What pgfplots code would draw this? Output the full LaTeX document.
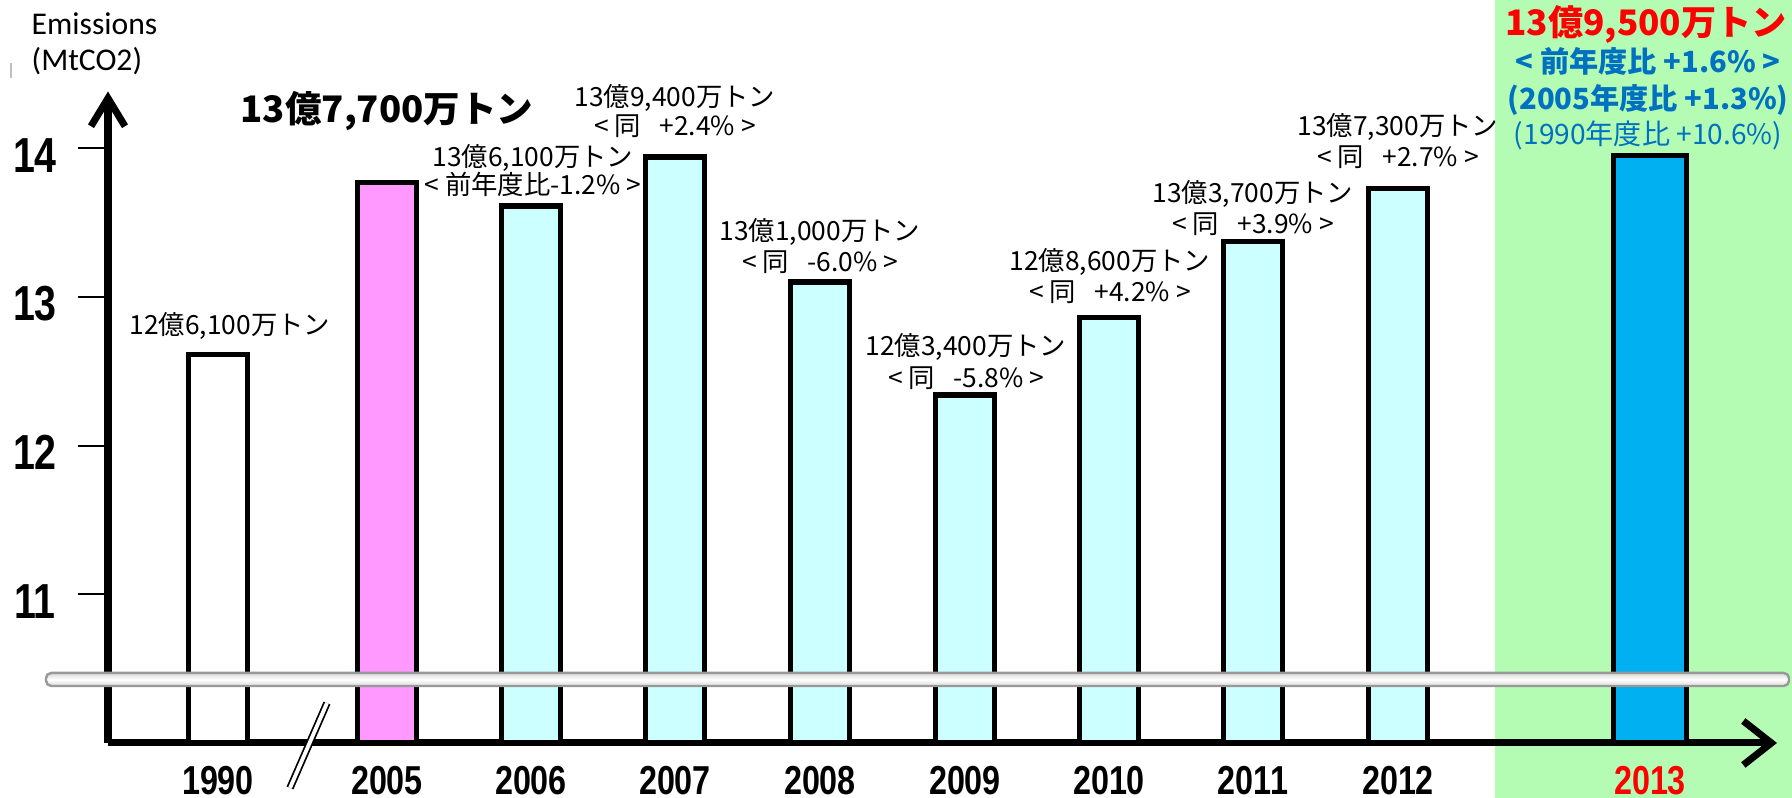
\documentclass[border=0pt]{standalone}
\usepackage{pgfplots}
\pgfplotsset{compat=1.18}
\usetikzlibrary{arrows.meta}
\usepackage{fontspec}
\setmainfont{Liberation Sans}
\newfontfamily\jp{Noto Sans CJK JP}
\newfontfamily\tickfont[FakeStretch=0.8]{Liberation Sans}
\newfontfamily\calib{Carlito}

\definecolor{bgGreen}{RGB}{180,252,180}
\definecolor{barPink}{RGB}{255,153,255}
\definecolor{barCyan}{RGB}{204,255,255}
\definecolor{barBlue}{RGB}{0,176,240}
\definecolor{txtBlue}{RGB}{0,112,192}

% small two-line labels above the bars
\newcommand{\lab}[3]{\node[font=\jp\fontsize{7.5}{9}\selectfont, inner sep=0pt] at (axis cs:#1,#2) {#3};}

\begin{document}
\begin{tikzpicture}
% 1 px of the reference = 0.01cm
\fill[bgGreen] (14.95,0) rectangle (17.92,7.98);
\useasboundingbox (0,0) rectangle (17.92,7.98);

\node[font=\calib\fontsize{9}{9}\selectfont, anchor=west, inner sep=0pt] at (0.31,7.74) {Emissions};
\node[font=\calib\fontsize{9}{9}\selectfont, anchor=west, inner sep=0pt] at (0.31,7.37) {(MtCO2)};
\draw[gray!50, line width=0.8pt] (0.11,7.35) -- (0.11,7.20);

\begin{axis}[
    at={(1.08cm,0.55cm)}, anchor=south west,
    scale only axis, width=16.69cm, height=6.515cm,
    xmin=108, xmax=1777,
    ymin=10, ymax=14.381,
    axis lines=left,
    x axis line style={line width=2pt, -{Straight Barb[length=0.28cm, width=0.44cm]}},
    y axis line style={line width=2pt, -{Straight Barb[length=0.28cm, width=0.34cm]}},
    clip mode=individual,
    /pgf/number format/assume math mode=true,
    ytick={11,12,13,14},
    ytick align=outside,
    major tick length=0.3cm,
    y tick style={line width=0.6pt, black},
    yticklabel style={font=\tickfont\bfseries\fontsize{14}{14}\selectfont, anchor=center, xshift=-0.43cm, yshift=-0.07cm},
    xtick={218,387,531,675,820,965,1109,1253,1398,1650},
    xticklabels={1990,2005,2006,2007,2008,2009,2010,2011,2012,\textcolor{red}{2013}},
    xtick align=inside,
    x tick style={draw=none},
    xticklabel style={font=\tickfont\bfseries\fontsize{11.5}{11.5}\selectfont, anchor=center, yshift=-0.375cm},
]
% bars
\addplot[ybar, bar width=59, bar shift=0pt, fill=white, draw=black, line width=1.5pt]
    coordinates {(218,12.61)};
\addplot[ybar, bar width=59, bar shift=0pt, fill=barPink, draw=black, line width=1.5pt]
    coordinates {(387,13.77)};
\addplot[ybar, bar width=59, bar shift=0pt, fill=barCyan, draw=black, line width=1.5pt]
    coordinates {(531,13.61) (675,13.94) (820,13.10) (965,12.34) (1109,12.86) (1253,13.37) (1398,13.73)};
\addplot[ybar, bar width=73, bar shift=0pt, fill=barBlue, draw=black, line width=1.5pt]
    coordinates {(1650,13.95)};

% labels
\lab{230}{12.804}{12億6,100万トン}
\node[font=\jp\bfseries\fontsize{10.4}{12}\selectfont, inner sep=0pt] at (axis cs:387,14.25) {13億7,700万トン};
\lab{533}{13.934}{13億6,100万トン}
\lab{533}{13.759}{< 前年度比-1.2\% >}
\lab{675}{14.338}{13億9,400万トン}
\lab{675}{14.149}{< 同\hspace{0.7em}+2.4\% >}
\lab{820}{13.436}{13億1,000万トン}
\lab{820}{13.235}{< 同\hspace{0.7em}-6.0\% >}
\lab{966}{12.663}{12億3,400万トン}
\lab{966}{12.455}{< 同\hspace{0.7em}-5.8\% >}
\lab{1110}{13.235}{12億8,600万トン}
\lab{1110}{13.033}{< 同\hspace{0.7em}+4.2\% >}
\lab{1253}{13.692}{13億3,700万トン}
\lab{1253}{13.490}{< 同\hspace{0.7em}+3.9\% >}
\lab{1398}{14.143}{13億7,300万トン}
\lab{1398}{13.942}{< 同\hspace{0.7em}+2.7\% >}

\node[font=\jp\bfseries\fontsize{10}{12}\selectfont, text=red, inner sep=0pt] at (axis cs:1646,14.828) {13億9,500万トン};
\node[font=\jp\bfseries\fontsize{8.3}{10}\selectfont, text=txtBlue, inner sep=0pt] at (axis cs:1648,14.580) {< 前年度比 +1.6\% >};
\node[font=\jp\bfseries\fontsize{8.3}{10}\selectfont, text=txtBlue, inner sep=0pt] at (axis cs:1648,14.324) {(2005年度比 +1.3\%)};
\node[font=\jp\fontsize{8}{10}\selectfont, text=txtBlue, inner sep=0pt] at (axis cs:1648,14.089) {(1990年度比 +10.6\%)};
\end{axis}

% scale break band and the // mark on the x axis
\draw[gray!80, line width=0.7pt, top color=gray!30, bottom color=gray!30, middle color=white, rounded corners=1.5pt]
    (0.46,1.12) rectangle (17.89,1.25);
\draw[black, line width=0.5pt, double=white, double distance=1.1pt] (2.90,0.10) -- (3.27,0.95);
\end{tikzpicture}
\end{document}
